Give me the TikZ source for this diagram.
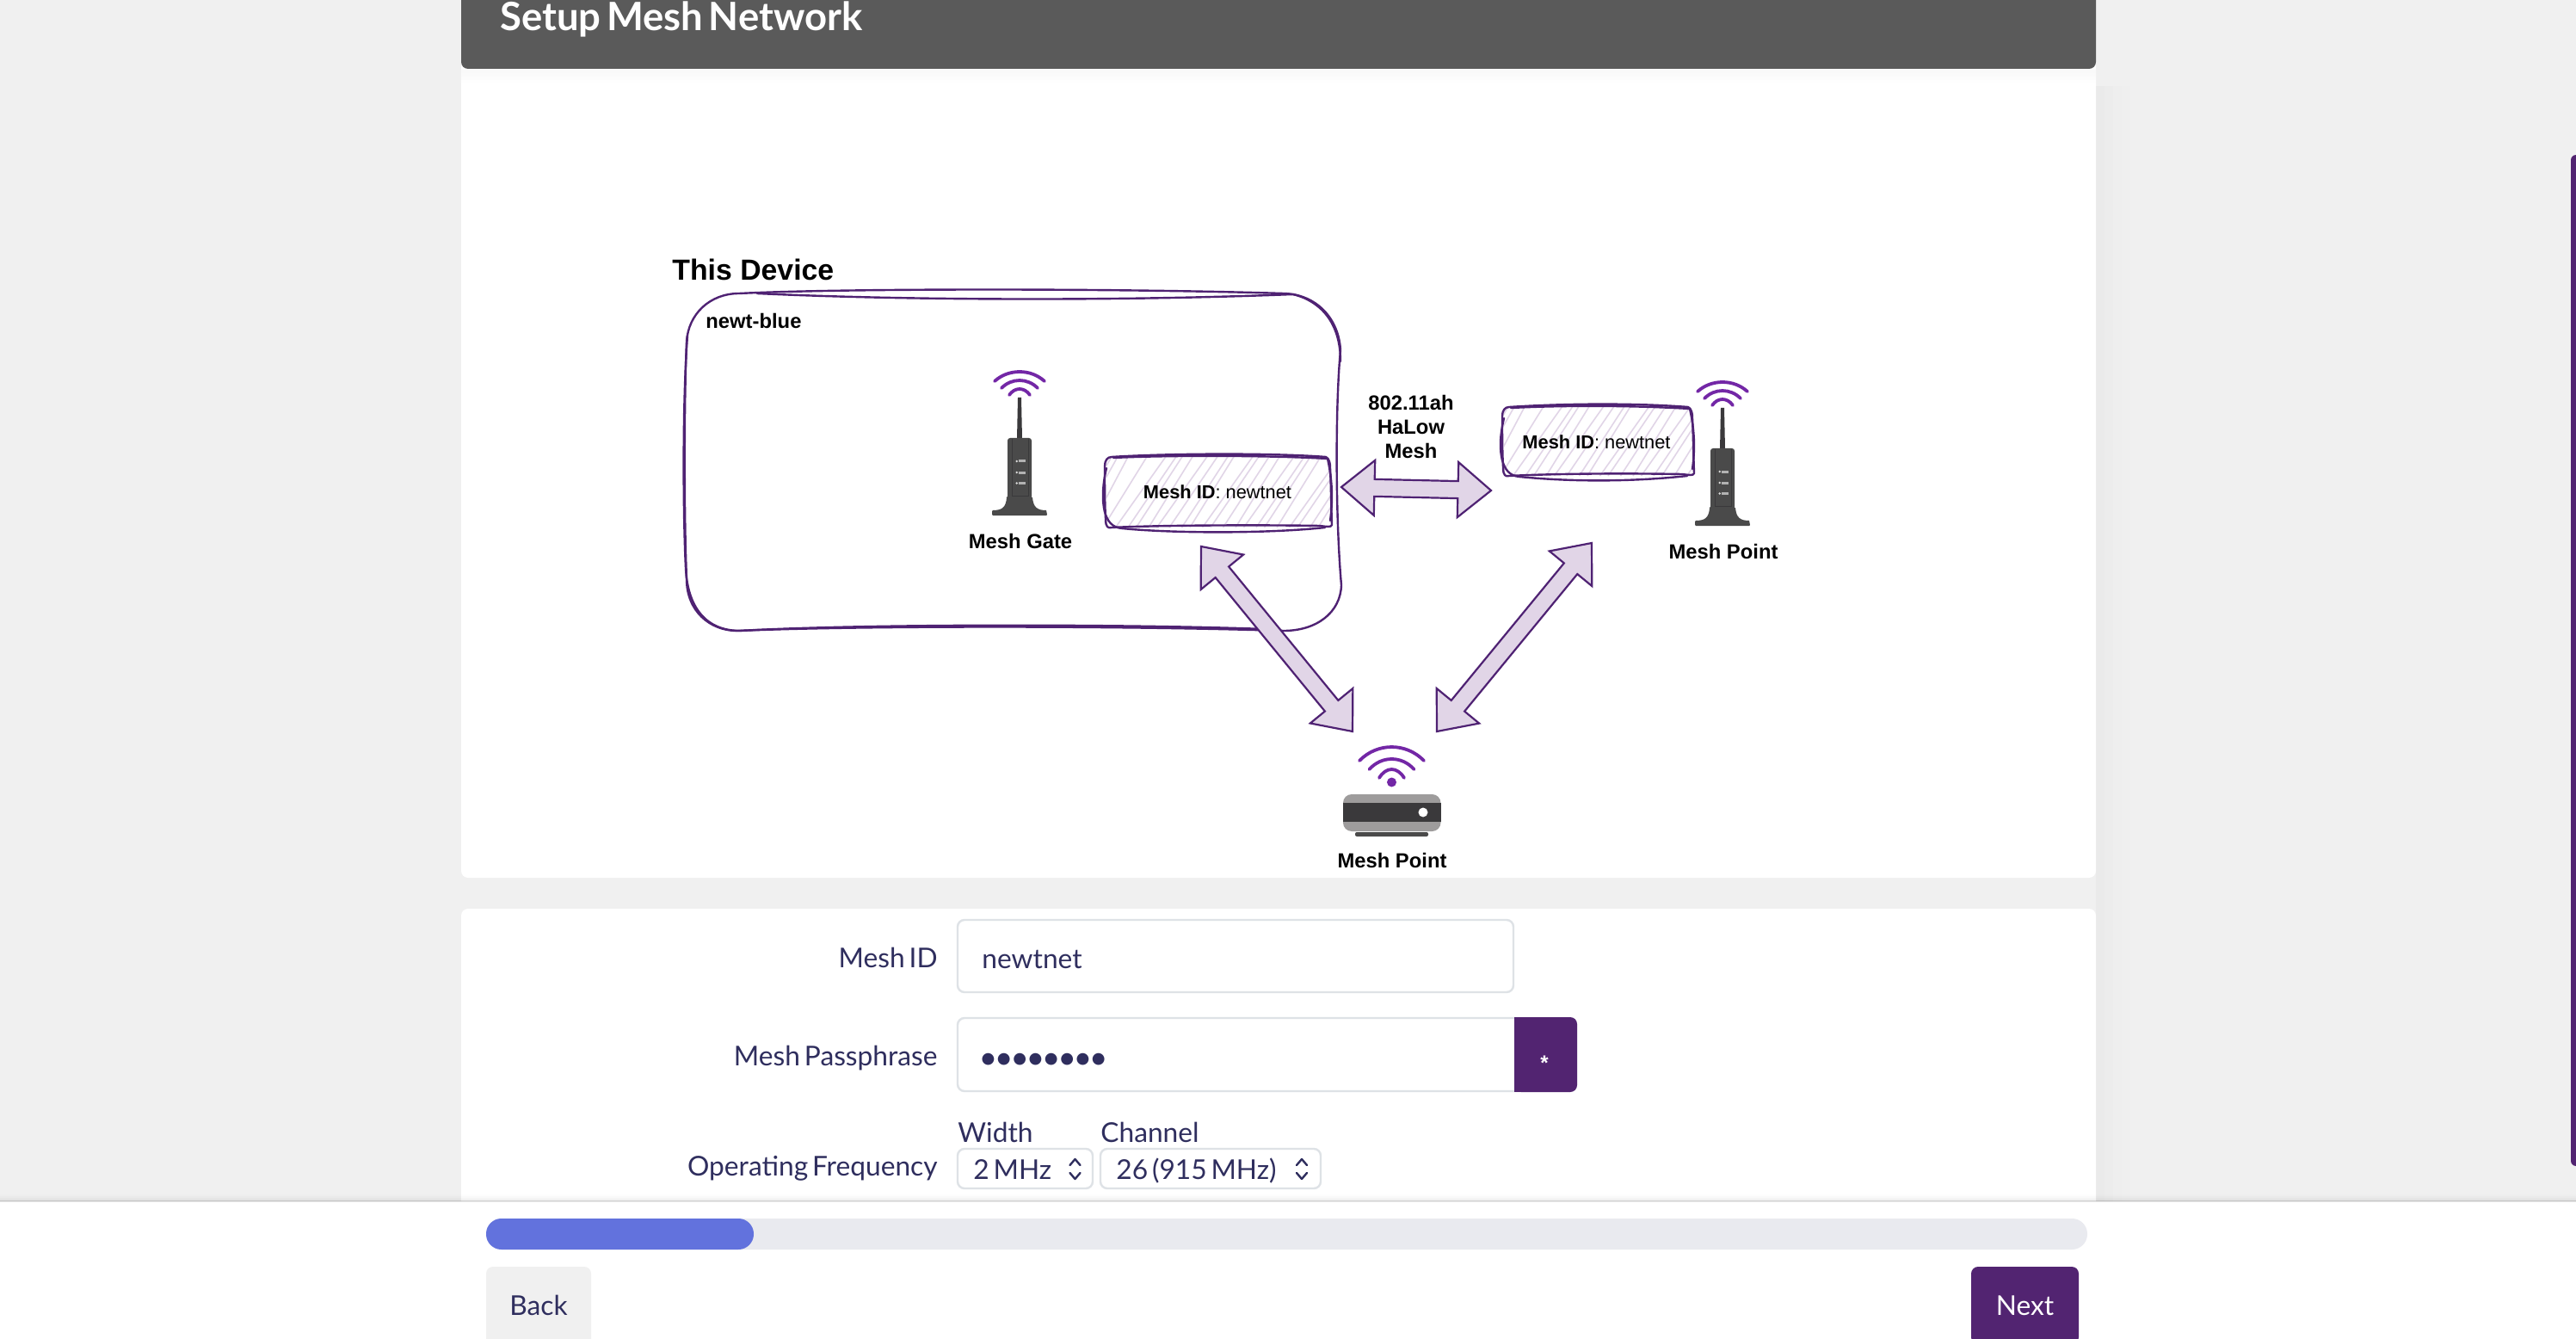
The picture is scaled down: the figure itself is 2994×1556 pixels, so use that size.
\documentclass[tikz,border=0pt]{standalone}
\usepackage{fontspec}
\usetikzlibrary{calc}
\newfontfamily\latofont[WordSpace=0.6]{Lato}
\newfontfamily\arialfont{Liberation Sans}
\definecolor{bgpage}{HTML}{F0F0F0}
\definecolor{headgrey}{HTML}{5A5A5A}
\definecolor{mpurple}{HTML}{522471}
\definecolor{sketchpurple}{HTML}{4F2273}
\definecolor{wifipurple}{HTML}{7327A6}
\definecolor{arrowfill}{HTML}{E1D5E7}
\definecolor{formtext}{HTML}{2F2E5E}
\definecolor{inputline}{HTML}{DEE2E6}
\definecolor{trackgrey}{HTML}{E9EAEF}
\definecolor{barblue}{HTML}{6272DD}
\definecolor{icondark}{HTML}{4A4A4A}
\definecolor{iconblack}{HTML}{3A393B}
\definecolor{icongrey}{HTML}{9E9C9C}
\tikzset{
  x=0.5pt,y=-0.5pt,
  sketch/.style={draw=sketchpurple,line width=1.2pt,line cap=round,line join=round},
  hatchline/.style={draw=arrowfill,line width=0.8pt},
  blockarrow/.style={draw=sketchpurple,fill=arrowfill,line width=1.1pt,line join=miter},
  wifi/.style={draw=wifipurple,line width=1.9pt,line cap=round},
  diag/.style={font=\arialfont\fontsize{11.9}{14}\selectfont,inner sep=0pt,text=black},
  diagbold/.style={font=\arialfont\bfseries\fontsize{11.9}{14}\selectfont,inner sep=0pt,text=black},
  meshid/.style={font=\arialfont\fontsize{10.9}{13}\selectfont,inner sep=0pt,text=black,anchor=base},
  form/.style={font=\latofont\fontsize{15.85}{19}\selectfont,inner sep=0pt,text=formtext},
  inputbox/.style={draw=inputline,fill=white,line width=1.2pt,rounded corners=4pt},
  chev/.style={draw=formtext,line width=1.2pt,line cap=round,line join=round},
}
\newcommand\wifiarc[5][wifi]{%
  \draw[#1] ({#2-#3},#4) .. controls ({#2-#3*0.45},{#4+(#5-#4)*1.33}) and ({#2+#3*0.45},{#4+(#5-#4)*1.33}) .. ({#2+#3},#4);}
% double block arrow between two named coordinates
\newcommand\blockarr[2]{%
  \draw[blockarrow] (#1)
   -- ($(#1)!19.25pt!(#2)!16pt!90:(#2)$)
   -- ($(#1)!19.25pt!(#2)!5pt!90:(#2)$)
   -- ($(#2)!19.25pt!(#1)!5pt!-90:(#1)$)
   -- ($(#2)!19.25pt!(#1)!16pt!-90:(#1)$)
   -- (#2)
   -- ($(#2)!19.25pt!(#1)!16pt!90:(#1)$)
   -- ($(#2)!19.25pt!(#1)!5pt!90:(#1)$)
   -- ($(#1)!19.25pt!(#2)!5pt!-90:(#2)$)
   -- ($(#1)!19.25pt!(#2)!16pt!-90:(#2)$)
   -- cycle;}
% hand-drawn hatched box: left, top, right, bottom
\newcommand\sketchbox[4]{%
  \begin{scope}
    \clip ({#1+2},{#2+2}) rectangle ({#3},{#4});
    \foreach \i in {-6,...,24}{
      \pgfmathsetmacro\hx{#1+\i*12.5+mod(\i*7,5)-2}
      \pgfmathsetmacro\hd{(#4-#2)*(0.62+0.03*mod(\i*3,4))}
      \draw[hatchline] (\hx,#4) -- ({\hx+\hd},#2);
    }
  \end{scope}
  \draw[sketch] ({#1+8},{#2+1}) .. controls ({#1+70},{#2-3}) and ({#3-70},{#2-4}) .. ({#3-5},{#2+1})
     .. controls ({#3-1},{#2+3}) and ({#3},{#2+8}) .. ({#3},{#2+14})
     .. controls ({#3+1},{#2+35}) and ({#3+1},{#4-30}) .. ({#3+2},{#4-3})
     .. controls ({#3+1},{#4}) and ({#3-4},{#4-1}) .. ({#3-12},{#4-2})
     .. controls ({#3-70},{#4-3}) and ({#1+70},{#4-3}) .. ({#1+8},{#4})
     .. controls ({#1+4},{#4+1}) and ({#1+1},{#4}) .. ({#1+1},{#4-10})
     .. controls ({#1},{#4-30}) and ({#1},{#2+35}) .. ({#1},{#2+12})
     .. controls ({#1},{#2+5}) and ({#1+3},{#2+1}) .. ({#1+8},{#2+1});
  \draw[sketch] ({#1+2},{#2+14}) .. controls ({#1-3},{#2+35}) and ({#1-3},{#4-30}) .. ({#1},{#4-18})
     .. controls ({#1+3},{#4-8}) and ({#1+8},{#4}) .. ({#1+20},{#4+1})
     .. controls ({#1+80},{#4+7}) and ({#3-70},{#4+7}) .. ({#3-6},{#4});
  \draw[sketch] ({#1+10},{#2+2}) .. controls ({#1+70},{#2-1}) and ({#3-70},{#2-1}) .. ({#3-3},{#2+3})
     .. controls ({#3+3},{#2+30}) and ({#3+3},{#4-30}) .. ({#3},{#4-8});
}
% tower router, drawn at Mesh Gate position
\newcommand\towericon{%
  \wifiarc{1185}{29}{443}{432}
  \wifiarc{1185}{21}{451}{442}
  \wifiarc{1185}{12}{459}{452}
  \fill[iconblack] (1183,462) -- (1187,462) -- (1188,510) -- (1182,510) -- cycle;
  \fill[icondark,rounded corners=1.5pt] (1171,509) rectangle (1199,585);
  \draw[iconblack,line width=0.5pt] (1176,510) -- (1176,576) -- (1195,576) -- (1195,510);
  \fill[icondark] (1170,578) -- (1200,578) .. controls (1201,590) and (1206,593) .. (1216,593)
     -- (1217,598) [rounded corners=0.5pt] -- (1217,599) -- (1153,599) -- (1153,593)
     .. controls (1164,593) and (1169,590) .. (1170,578) -- cycle;
  \foreach \ly in {536,549,561.5}{
    \fill[white!85!black] (1181.7,\ly) circle (1.3);
    \fill[white!70!black] (1184,{\ly-1.5}) rectangle (1192,{\ly+1.5});
  }}
\begin{document}
\begin{tikzpicture}
\clip (0,0) rectangle (2994,1556);
\fill[bgpage] (0,0) rectangle (2994,1556);
% card side shadows
\foreach \sx/\so in {2436/0.025,2446/0.015,2456/0.008,2466/0.003}{
  \fill[black,opacity=\so] (\sx,100) rectangle ({\sx+10},1396);
}
% scrollbar
\fill[mpurple,rounded corners=3pt] (2988,180) rectangle (3010,1355);
% cards
\fill[white,rounded corners=4pt] (536,40) rectangle (2436,1020);
\fill[white,rounded corners=4pt] (536,1056) rectangle (2436,1440);
\foreach \sy/\so in {81/0.025,85/0.018,89/0.010,93/0.005}{
  \fill[black,opacity=\so] (536,\sy) rectangle (2436,{\sy+4});
}
\fill[headgrey,rounded corners=4pt] (536,-30) rectangle (2436,80);
\node[font=\latofont\bfseries\fontsize{22.7}{26}\selectfont,text=white,inner sep=0pt,anchor=base west] (title) at (581,36) {Setup Mesh Network};

% ---- diagram ----
\node[font=\arialfont\bfseries\fontsize{16.9}{20}\selectfont,inner sep=0pt,anchor=base west] (thisdev) at (781,325.5) {This Device};
% main sketch box
\draw[sketch] (859,341) .. controls (980,335) and (1300,335) .. (1492,341)
   .. controls (1530,342) and (1556,370) .. (1558,407)
   .. controls (1552,470) and (1552,600) .. (1559,680)
   .. controls (1558,712) and (1530,733) .. (1492,733)
   .. controls (1300,727) and (1000,727) .. (857,733)
   .. controls (825,733) and (798,710) .. (798,673)
   .. controls (795,600) and (795,470) .. (798,397)
   .. controls (800,365) and (825,341) .. (859,341);
\draw[sketch] (880,341) .. controls (1050,349) and (1300,350) .. (1503,342)
   .. controls (1535,350) and (1558,375) .. (1558,420);
\draw[sketch] (799,390) .. controls (793,470) and (794,600) .. (797,660)
   .. controls (799,705) and (820,733) .. (860,733)
   .. controls (1000,725) and (1300,725) .. (1470,731);
\node[diagbold,anchor=base west] (hostname) at (820,381.5) {newt-blue};

% Mesh Gate tower
\towericon
\node[diagbold,anchor=base] (gatelbl) at (1186,637) {Mesh Gate};
% right tower
\begin{scope}[shift={(817,12)}]
\towericon
\end{scope}
\node[diagbold,anchor=base] (pointlbl) at (2003,649) {Mesh Point};

% hatched boxes
\sketchbox{1284}{530}{1546}{613}
\node[meshid] (idgate) at (1415,580) {\textbf{Mesh ID}: newtnet};
\sketchbox{1746}{472}{1967}{553}
\node[meshid] (idpoint) at (1855.5,522) {\textbf{Mesh ID}: newtnet};

% bottom device
\wifiarc{1617.5}{37.5}{884}{868}
\wifiarc{1617.5}{26}{894}{882}
\wifiarc{1617.5}{14.5}{904}{894}
\fill[wifipurple] (1617.5,909) circle (5.5);
\fill[icongrey,rounded corners=5pt] (1561,923) rectangle (1674.5,966);
\fill[iconblack] (1561,933) rectangle (1674.5,955);
\fill[white] (1654,944) circle (5.5);
\fill[icondark,rounded corners=1pt] (1575,967) rectangle (1660,972);
\node[diagbold,anchor=base] (bottomlbl) at (1618,1008) {Mesh Point};

% connector ends
\coordinate (halowL) at (1559,566);
\coordinate (halowR) at (1733,570);
\coordinate (gateEnd) at (1396,635);
\coordinate (devEndL) at (1572,850);
\coordinate (pointEnd) at (1850,631);
\coordinate (devEndR) at (1670,850);
\blockarr{halowL}{halowR}
\blockarr{gateEnd}{devEndL}
\blockarr{pointEnd}{devEndR}
\node[diagbold,align=center,anchor=center] (halow) at (1640,496) {802.11ah\\HaLow\\Mesh};

% ---- form ----
\node[form,anchor=base east] (l1) at (1090,1124) {Mesh ID};
\draw[inputbox] (1113,1069) rectangle (1759,1153);
\node[form,anchor=base west] (v1) at (1141,1125) {newtnet};
\node[form,anchor=base east] (l2) at (1090,1238) {Mesh Passphrase};
\draw[inputbox] (1113,1183) rectangle (1775,1268);
\fill[mpurple,rounded corners=4pt] (1760,1182) rectangle (1833,1269);
\fill[mpurple] (1760,1182) rectangle (1785,1269);
\node[form,font=\latofont\bfseries\fontsize{15.8}{19}\selectfont,anchor=base west] (v2) at (1139,1240) {••••••••};
\node[font=\arialfont\bfseries\fontsize{12}{14}\selectfont,text=white,inner sep=0pt,anchor=base] (star) at (1795,1243) {*};
\node[form,anchor=base west] (wlbl) at (1113,1327) {Width};
\node[form,anchor=base west] (clbl) at (1279,1327) {Channel};
\node[form,anchor=base east] (l3) at (1090,1366) {Operating Frequency};
\draw[inputbox] (1113,1335) rectangle (1270,1381);
\node[form,anchor=base west] (s1) at (1131,1370) {2 MHz};
\draw[chev] (1243.5,1354) -- (1249.5,1347) -- (1255.5,1354);
\draw[chev] (1243.5,1363) -- (1249.5,1370) -- (1255.5,1363);
\draw[inputbox] (1279,1335) rectangle (1535,1381);
\node[form,anchor=base west] (s2) at (1297,1370) {26 (915 MHz)};
\draw[chev] (1507,1354) -- (1513,1347) -- (1519,1354);
\draw[chev] (1507,1363) -- (1513,1370) -- (1519,1363);

% ---- footer ----
\foreach \sy/\so in {1388/0.008,1390/0.02,1392/0.04,1394/0.07}{
  \fill[black,opacity=\so] (0,\sy) rectangle (2994,{\sy+2});
}
\fill[white] (0,1396) rectangle (2994,1556);
\fill[black,opacity=0.1] (0,1395) rectangle (2994,1397);
\fill[trackgrey,rounded corners=8.9pt] (565,1416) rectangle (2426,1452);
\fill[barblue,rounded corners=8.9pt] (565,1416) rectangle (876,1452);
\fill[bgpage,rounded corners=4pt] (565,1472) rectangle (687,1575);
\node[form,anchor=base] (back) at (626,1528) {Back};
\fill[mpurple,rounded corners=4pt] (2291,1472) rectangle (2416,1562);
\node[form,text=white,anchor=base] (next) at (2353.5,1528) {Next};
\end{tikzpicture}
\end{document}
